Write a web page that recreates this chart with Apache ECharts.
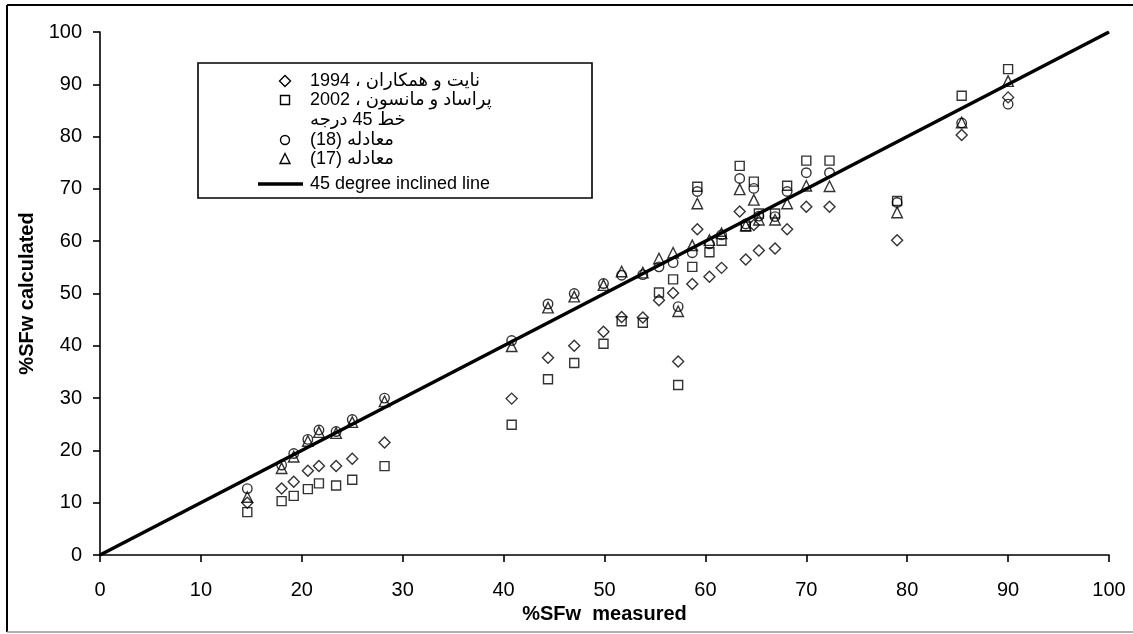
<!DOCTYPE html>
<html>
<head>
<meta charset="utf-8">
<script src="https://cdn.jsdelivr.net/npm/echarts@6/dist/echarts.min.js"></script>
<style>
html,body{margin:0;padding:0;background:#fff;}
#chart{width:1133px;height:634px;}
</style>
</head>
<body>
<div id="chart"></div>
<script>
// ---- data ----
const measured   = [14.6,18.0,19.2,20.6,21.7,23.4,25.0,28.2,40.8,44.4,47.0,49.9,51.7,53.8,55.4,56.8,57.3,58.7,59.2,60.4,61.6,63.4,64.0,64.8,65.3,66.9,68.1,70.0,72.3,79.0,85.4,90.0];
const knight1994 = [10.0,12.7,14.0,16.1,17.0,17.0,18.4,21.5,29.9,37.7,40.0,42.7,45.5,45.4,48.7,50.1,37.0,51.8,62.3,53.2,54.9,65.7,56.5,63.1,58.2,58.6,62.3,66.6,66.6,60.2,80.3,87.5];
const prasad2002 = [8.2,10.3,11.3,12.6,13.7,13.3,14.4,17.0,24.9,33.6,36.7,40.4,44.7,44.4,50.2,52.7,32.5,55.1,70.4,57.9,60.1,74.4,62.8,71.4,65.3,65.3,70.6,75.4,75.4,67.7,87.8,92.9];
const eq18       = [12.7,17.2,19.4,22.1,23.9,23.6,25.9,30.0,41.0,48.0,50.0,51.9,53.5,53.6,55.1,55.9,47.5,57.8,69.5,59.5,61.2,72.0,63.3,70.1,64.8,64.7,69.5,73.1,73.1,67.4,82.6,86.2];
const eq17       = [11.1,16.6,18.8,21.8,23.5,23.3,25.4,29.4,39.9,47.3,49.4,51.6,54.2,54.0,56.7,57.8,46.6,59.2,67.2,60.2,61.5,69.9,63.0,67.9,64.1,64.1,67.2,70.6,70.5,65.5,82.7,90.6];
const lineX = [0, 100];
const lineY = [0, 100];
const legendLabels = ['نایت و همکاران ، 1994', 'پراساد و مانسون ، 2002', 'خط 45 درجه', 'معادله (18)', 'معادله (17)', '45 degree inclined line'];
const xTitle = '%SFw  measured';
const yTitle = '%SFw calculated';

const FONT = '"Liberation Sans", Arial, "DejaVu Sans", sans-serif';
const rtl = s => '\u202B' + s + '\u202C';
const pairs = ys => measured.map((x, i) => [x, ys[i]]);

const chart = echarts.init(document.getElementById('chart'), null, {renderer: 'canvas'});

function scatter(name, ys, symbol, size) {
  return {
    name, type: 'scatter', data: pairs(ys), symbol, symbolSize: size,
    itemStyle: {color: 'rgba(0,0,0,0)', borderColor: '#000', borderWidth: 1.4},
    emphasis: {disabled: true}, z: 3
  };
}

const axisCommon = {
  type: 'value', min: 0, max: 100, interval: 10,
  axisLine: {show: true, lineStyle: {color: '#000', width: 1.6}},
  axisTick: {show: true, inside: false, length: 7, lineStyle: {color: '#000', width: 1.6}},
  splitLine: {show: false},
  nameLocation: 'middle',
  nameTextStyle: {color: '#000', fontSize: 20, fontWeight: 'bold', fontFamily: FONT}
};

// legend drawn as graphic
const lx = 285, tx = 310;
const rowsY = [81, 100, 120, 140, 159, 184];
const legendGraphics = [
  {type: 'rect', shape: {x: 198, y: 63, width: 394, height: 135}, style: {fill: '#fff', stroke: '#000', lineWidth: 1.6}, z: 10},
  {type: 'polygon', shape: {points: [[lx, rowsY[0]-5.5],[lx+5.5, rowsY[0]],[lx, rowsY[0]+5.5],[lx-5.5, rowsY[0]]]}, style: {fill: 'none', stroke: '#000', lineWidth: 1.4}, z: 11},
  {type: 'rect', shape: {x: lx-4.5, y: rowsY[1]-4.5, width: 9, height: 9}, style: {fill: 'none', stroke: '#000', lineWidth: 1.4}, z: 11},
  {type: 'circle', shape: {cx: lx, cy: rowsY[3], r: 4.5}, style: {fill: 'none', stroke: '#000', lineWidth: 1.4}, z: 11},
  {type: 'polygon', shape: {points: [[lx, rowsY[4]-5.5],[lx+5, rowsY[4]+4.5],[lx-5, rowsY[4]+4.5]]}, style: {fill: 'none', stroke: '#000', lineWidth: 1.4}, z: 11},
  {type: 'line', shape: {x1: 258, y1: rowsY[5], x2: 303, y2: rowsY[5]}, style: {stroke: '#000', lineWidth: 3.5}, z: 11}
];
legendLabels.forEach((t, i) => {
  legendGraphics.push({
    type: 'text', z: 11,
    style: {text: i < 5 ? rtl(t) : t, x: tx, y: rowsY[i], fill: '#000', font: '18px ' + FONT, textAlign: 'left', textVerticalAlign: 'middle'}
  });
});
// outer frame
legendGraphics.push(
  {type: 'line', shape: {x1: 7, y1: 5, x2: 1133, y2: 5}, style: {stroke: '#000', lineWidth: 2}, z: 1},
  {type: 'line', shape: {x1: 7, y1: 5, x2: 7, y2: 632}, style: {stroke: '#000', lineWidth: 2}, z: 1},
  {type: 'line', shape: {x1: 7, y1: 632, x2: 1133, y2: 632}, style: {stroke: '#999', lineWidth: 1.5}, z: 1}
);

chart.setOption({
  animation: false,
  backgroundColor: '#fff',
  textStyle: {fontFamily: FONT},
  grid: {left: 100, top: 32, right: 24, bottom: 79, containLabel: false},
  xAxis: Object.assign({}, axisCommon, {
    name: xTitle, nameGap: 48,
    axisLabel: {color: '#000', fontSize: 20, margin: 25, fontFamily: FONT}
  }),
  yAxis: Object.assign({}, axisCommon, {
    name: yTitle, nameGap: 62, nameRotate: 90,
    axisLabel: {color: '#000', fontSize: 20, margin: 18, fontFamily: FONT}
  }),
  series: [
    scatter(legendLabels[0], knight1994, 'diamond', 11),
    scatter(legendLabels[1], prasad2002, 'rect', 9),
    scatter(legendLabels[3], eq18, 'circle', 9.5),
    scatter(legendLabels[4], eq17, 'triangle', 10.5),
    {
      name: legendLabels[5], type: 'line', data: lineX.map((x, i) => [x, lineY[i]]),
      symbol: 'none', lineStyle: {color: '#000', width: 3.5}, z: 2, emphasis: {disabled: true}
    }
  ],
  graphic: legendGraphics
});
</script>
</body>
</html>
